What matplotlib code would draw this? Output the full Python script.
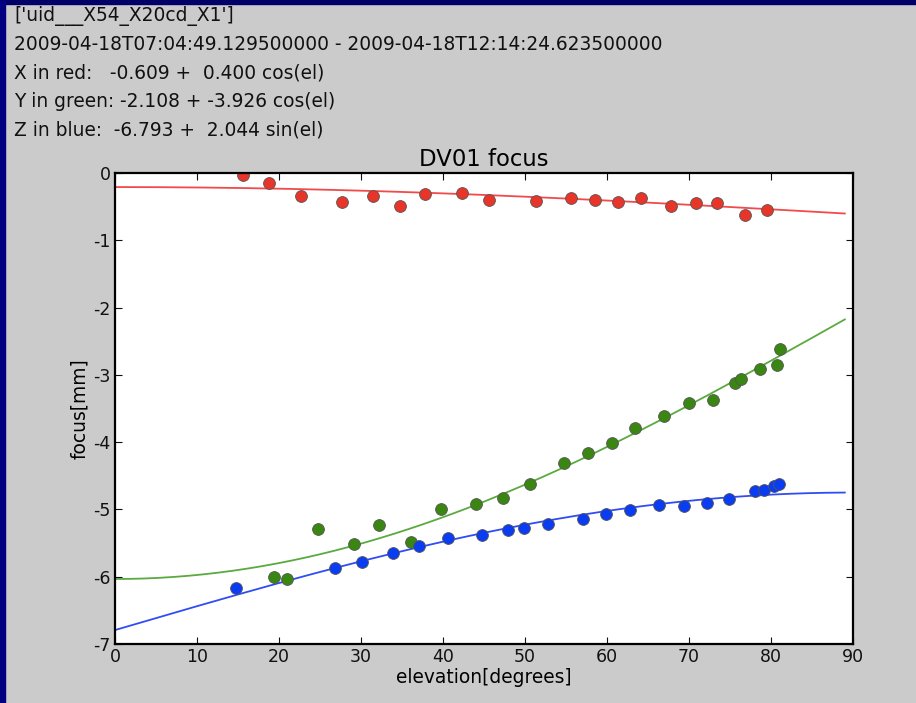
import numpy as np
import matplotlib
matplotlib.use("Agg")
import matplotlib.pyplot as plt
from matplotlib.patches import Rectangle

# header text
header_lines = [
    "['uid___X54_X20cd_X1']",
    "2009-04-18T07:04:49.129500000 - 2009-04-18T12:14:24.623500000",
    "X in red:   -0.609 +  0.400 cos(el)",
    "Y in green: -2.108 + -3.926 cos(el)",
    "Z in blue:  -6.793 +  2.044 sin(el)",
]

# measured focus offsets (elevation in degrees, focus in mm)
x_el = [15.65, 18.74, 22.72, 27.65, 31.5, 34.76, 37.8, 42.28, 45.61, 51.34,
        55.61, 58.5, 61.3, 64.18, 67.77, 70.82, 73.41, 76.83, 79.48]
x_focus = [-0.03, -0.144, -0.337, -0.426, -0.337, -0.49, -0.317, -0.297, -0.401, -0.412,
           -0.367, -0.405, -0.426, -0.367, -0.495, -0.451, -0.451, -0.62, -0.555]

y_el = [19.39, 21.01, 24.76, 29.18, 32.23, 36.13, 39.72, 44.02, 47.28, 50.61, 54.72,
        57.72, 60.61, 63.41, 66.99, 70.04, 72.89, 75.61, 76.30, 78.62, 80.77, 81.13]
y_focus = [-6.0, -6.038, -5.295, -5.513, -5.231, -5.488, -4.989, -4.923, -4.834, -4.617, -4.31,
           -4.161, -4.008, -3.79, -3.616, -3.418, -3.369, -3.116, -3.066, -2.913, -2.849, -2.611]

z_el = [14.76, 26.79, 30.16, 33.87, 37.11, 40.65, 44.79, 47.96, 49.88, 52.77, 57.07,
        59.88, 62.77, 66.34, 69.35, 72.2, 74.84, 78.05, 79.15, 80.37, 80.98]
z_focus = [-6.172, -5.872, -5.777, -5.643, -5.539, -5.429, -5.38, -5.305, -5.28, -5.221, -5.142,
           -5.072, -5.008, -4.938, -4.944, -4.9, -4.84, -4.73, -4.707, -4.652, -4.617]

# fit coefficients from the header
x_fit = (-0.609, 0.400)
y_fit = (-2.108, -3.926)
z_fit = (-6.793, 2.044)

fig = plt.figure(figsize=(9.16, 7.03), dpi=100, facecolor="#cbcbcb")
# navy frame on top and left
fig.patches.append(Rectangle((0, 1 - 4 / 703), 1, 4 / 703, transform=fig.transFigure,
                             color="#000066", zorder=0))
fig.patches.append(Rectangle((0, 0), 5 / 916, 1, transform=fig.transFigure,
                             color="#000080", zorder=0))

for i, line in enumerate(header_lines):
    fig.text(14 / 916, 1 - (16 + i * 28.5) / 703, line, fontsize=13.4, va="center",
             ha="left", color="#111111")

ax = fig.add_axes([115 / 916, 1 - 644 / 703, 738 / 916, 471 / 703])
ax.set_facecolor("white")

el = np.linspace(0, 89, 200)
rad = np.radians(el)
ax.plot(el, x_fit[0] + x_fit[1] * np.cos(rad), color="#f24a4a", lw=1.3)
ax.plot(el, y_fit[0] + y_fit[1] * np.cos(rad), color="#5aaa40", lw=1.3)
ax.plot(el, z_fit[0] + z_fit[1] * np.sin(rad), color="#2f4cf5", lw=1.3)

mk = dict(ls="none", marker="o", ms=8.5, mec="#555555", mew=0.6)
ax.plot(x_el, x_focus, mfc="#e8352a", **mk)
ax.plot(y_el, y_focus, mfc="#3a8612", **mk)
ax.plot(z_el, z_focus, mfc="#0a3cf2", **mk)

ax.set_xlim(0, 90)
ax.set_ylim(-7, 0)
ax.set_xticks(range(0, 91, 10))
ax.set_yticks(range(-7, 1))
ax.set_yticklabels([str(v) for v in range(-7, 1)])
ax.tick_params(direction="in", top=True, right=True, length=5, labelsize=12.5,
               colors="#111111", pad=3)
for s in ax.spines.values():
    s.set_linewidth(1.6)

ax.set_title("DV01 focus", fontsize=16.4, pad=5)
ax.set_xlabel("elevation[degrees]", fontsize=13.4, labelpad=1)
ax.set_ylabel("focus[mm]", fontsize=13.4, labelpad=3)

fig.savefig("out.png", dpi=100, facecolor=fig.get_facecolor())
